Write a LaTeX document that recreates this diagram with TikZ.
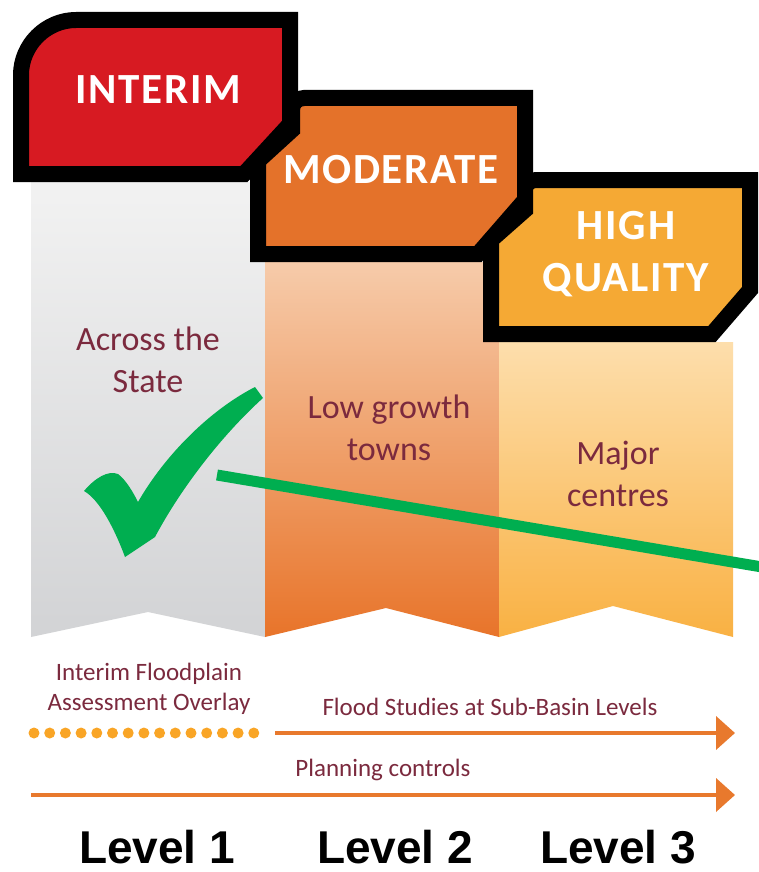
\documentclass[tikz,border=0pt]{standalone}
\usepackage{fontspec}
\setmainfont{Carlito}
\newfontfamily\headfont[LetterSpace=4]{Carlito}
\newfontfamily\levelfont{Liberation Sans}
\usetikzlibrary{arrows.meta}
\definecolor{grayTop}{HTML}{F2F2F2}
\definecolor{grayBot}{HTML}{D2D3D5}
\definecolor{orTop}{HTML}{F6CBAA}
\definecolor{orBot}{HTML}{E8742A}
\definecolor{yeTop}{HTML}{FDDEAC}
\definecolor{yeBot}{HTML}{F9B143}
\definecolor{boxRed}{HTML}{D71A22}
\definecolor{boxOrange}{HTML}{E4722A}
\definecolor{boxYellow}{HTML}{F5A934}
\definecolor{maroon}{HTML}{7B2A3E}
\definecolor{tick}{HTML}{00AE50}
\definecolor{arrowOr}{HTML}{E8792D}
\definecolor{dotOr}{HTML}{F9A526}
\tikzset{
  hdrbox/.style={draw=black, line width=16pt, line join=miter},
  hdrtext/.style={text=white, font=\headfont\bfseries\fontsize{43}{52}\selectfont, align=center, inner sep=0pt},
  coltext/.style={text=maroon, font=\fontsize{34}{42}\selectfont, align=center, inner sep=0pt},
  lowtext/.style={text=maroon, font=\fontsize{25}{30}\selectfont, align=center, inner sep=0pt},
  leveltext/.style={text=black, font=\levelfont\bfseries\fontsize{46}{50}\selectfont, inner sep=0pt},
  flowarrow/.style={draw=arrowOr, line width=4pt, -{Triangle[length=19pt,width=33pt]}},
}
\begin{document}
\begin{tikzpicture}[x=1pt,y=-1pt]
\useasboundingbox (0,0) rectangle (758,872);
\fill[white] (0,0) rectangle (758,872);

% columns
\shade[top color=grayTop, bottom color=grayBot]
  (31,182) -- (265,182) -- (265,637) -- (148,612) -- (31,637) -- cycle;
\shade[top color=orTop, bottom color=orBot]
  (265,262) -- (499,262) -- (499,637) -- (386,608) -- (265,637) -- cycle;
\shade[top color=yeTop, bottom color=yeBot]
  (499,342) -- (733,342) -- (733,637) -- (613,606) -- (499,637) -- cycle;

% header boxes
\filldraw[hdrbox, fill=boxRed]
  (21,174) -- (21,75) .. controls (21,45) and (46,20) .. (76,20)
  -- (290,20) -- (290,124) -- (244,174) -- cycle;
\filldraw[hdrbox, fill=boxOrange]
  (258,254) -- (258,161) -- (292,130) -- (292,110)
  .. controls (292,103) and (297,98) .. (304,98)
  -- (525,98) -- (525,200) -- (478,254) -- cycle;
\filldraw[hdrbox, fill=boxYellow]
  (491,334) -- (491,240) -- (525,210) -- (525,190)
  .. controls (525,184) and (530,180) .. (536,180)
  -- (750,180) -- (750,290) -- (712,334) -- cycle;

\node[hdrtext] (tInterim) at (158,90) {INTERIM};
\node[hdrtext] (tModerate) at (391,170) {MODERATE};
\node[hdrtext] (tHigh) at (626,254) {HIGH\\QUALITY};

% column texts
\node[coltext] (cState) at (148,360) {Across the\\State};
\node[coltext] (cTowns) at (389,428) {Low growth\\towns};
\node[coltext] (cCentres) at (618,474) {Major\\centres};

% check mark
\fill[tick] (84,491) .. controls (95,478) and (108,470) .. (118,474)
  .. controls (126,480) and (133,492) .. (138,502)
  .. controls (165,455) and (210,410) .. (255,387)
  -- (263,398) .. controls (220,437) and (180,490) .. (155,537)
  -- (125,557) .. controls (115,530) and (100,500) .. (84,491) -- cycle;
\coordinate (gStart) at (217,475);
\coordinate (gEnd) at (762,567);
\draw[tick, line width=11pt] (gStart) -- (gEnd);

% lower labels
\node[lowtext] (tOverlay) at (149,689) {Interim Floodplain\\Assessment Overlay};
\node[lowtext] (tFlood) at (490,707) {Flood Studies at Sub-Basin Levels};
\node[lowtext] (tPlan) at (383,770) {Planning controls};

% dots
\foreach \i in {0,...,14} {
  \fill[dotOr] (34+15.7*\i,733) circle[radius=5.5pt];
}

% arrows
\coordinate (a1s) at (275,733);
\coordinate (a1e) at (735,733);
\draw[flowarrow] (a1s) -- (a1e);
\coordinate (a2s) at (31,795);
\coordinate (a2e) at (735,795);
\draw[flowarrow] (a2s) -- (a2e);

% levels
\node[leveltext] (lv1) at (157,847) {Level 1};
\node[leveltext] (lv2) at (395,847) {Level 2};
\node[leveltext] (lv3) at (618,847) {Level 3};
\end{tikzpicture}
\end{document}
